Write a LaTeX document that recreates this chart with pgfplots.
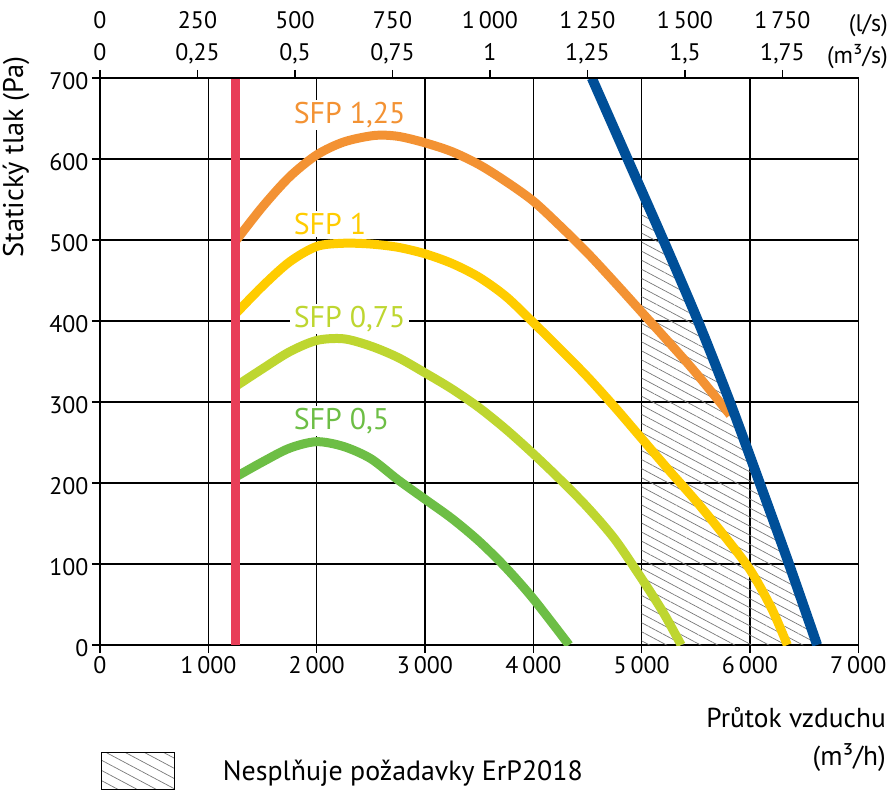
\documentclass[border=0pt]{standalone}
\usepackage{fontspec}
\setmainfont{PT Sans}
\usepackage{pgfplots}
\pgfplotsset{compat=1.18}
\usetikzlibrary{patterns.meta}
\definecolor{cOrange}{RGB}{243,146,51}
\definecolor{cYellow}{RGB}{255,204,0}
\definecolor{cLime}{RGB}{190,214,48}
\definecolor{cGreen}{RGB}{109,190,69}
\definecolor{cRed}{RGB}{232,62,88}
\definecolor{cBlue}{RGB}{0,79,152}
\definecolor{cHatch}{RGB}{120,120,120}
\newcommand\tl[2]{\begin{tabular}{@{}c@{}}#1\\#2\end{tabular}}
\begin{document}
\begin{tikzpicture}
\begin{axis}[name=ax,
  scale only axis, width=758.3bp, height=567bp,
  xmin=0, xmax=7000, ymin=0, ymax=700,
  xtick={0,1000,...,7000},
  xticklabels={0,1\,000,2\,000,3\,000,4\,000,5\,000,6\,000,7\,000},
  ytick={0,100,...,700},
  grid=major,
  major grid style={black, line width=1.1bp},
  axis line style={black, line width=1.2bp},
  tick style={black, line width=1.1bp},
  tick align=outside, major tick length=8bp,
  xtick pos=bottom, ytick pos=left,
  /pgf/number format/assume math mode=true,
  ticklabel style={font=\fontsize{24}{30}\selectfont},
  yticklabel style={yshift=-3bp},
]
% hatched area
\addplot[draw=none, pattern={Lines[angle=-28, distance=8bp, line width=0.7bp]}, pattern color=cHatch]
  coordinates {(5000,0) (5000,560) (5200,500) (5520,400) (5815,300) (6090,200) (6360,100) (6620,0)} -- cycle;
% labels
\node[anchor=base west, fill=white, inner xsep=4bp, inner ysep=2bp, text=cOrange, font=\fontsize{30}{36}\selectfont] at (axis cs:1750,644) {SFP 1,25};
\node[anchor=base west, fill=white, inner xsep=4bp, inner ysep=2bp, text=cYellow, font=\fontsize{30}{36}\selectfont] at (axis cs:1750,507) {SFP 1};
\node[anchor=base west, fill=white, inner xsep=4bp, inner ysep=2bp, text=cLime, font=\fontsize{30}{36}\selectfont] at (axis cs:1750,392) {SFP 0,75};
\node[anchor=base west, fill=white, inner xsep=4bp, inner ysep=2bp, text=cGreen, font=\fontsize{30}{36}\selectfont] at (axis cs:1750,266) {SFP 0,5};
% curves
\addplot[cOrange, line width=9bp, smooth, line join=round] coordinates {
(1260,500) (1500,541) (1750,578) (2000,605) (2250,621) (2530,629) (2750,628) (3000,620)
(3250,609) (3500,593) (3750,572) (4000,548) (4250,517) (4500,484) (4750,448) (5000,411)
(5250,374) (5500,336) (5817,284)};
\addplot[cYellow, line width=9bp, smooth, line join=round] coordinates {
(1260,410) (1500,443) (1750,473) (2000,492) (2250,496) (2500,495) (2750,491) (3000,483)
(3250,471) (3500,454) (3750,430) (4000,398) (4250,365) (4500,331) (4750,294) (5000,255)
(5250,216) (5500,178) (5750,137) (6000,93) (6200,45) (6345,0)};
\addplot[cLime, line width=9bp, smooth, line join=round] coordinates {
(1260,320) (1500,341) (1750,362) (2000,376) (2250,378) (2500,369) (2750,355) (3000,336)
(3250,316) (3500,293) (3750,266) (4000,236) (4250,204) (4500,170) (4750,131) (5000,82)
(5200,40) (5365,0)};
\addplot[cGreen, line width=9bp, smooth, line join=round] coordinates {
(1260,208) (1500,226) (1750,243) (2000,251) (2250,245) (2500,230) (2750,204) (3000,180)
(3250,156) (3500,128) (3750,95) (4000,57) (4330,0)};
\addplot[cBlue, line width=10bp, smooth, line join=round] coordinates {
(4540,700) (4870,600) (5200,500) (5520,400) (5815,300) (6090,200) (6360,100) (6620,0)};
\addplot[cRed, line width=9bp] coordinates {(1255,0) (1255,700)};
\end{axis}
\begin{axis}[
  scale only axis, width=758.3bp, height=567bp,
  xmin=0, xmax=7000, ymin=0, ymax=700,
  axis x line*=top, axis y line=none,
  axis line style={black, line width=1.2bp},
  tick style={black, line width=1.1bp},
  tick align=outside, major tick length=8bp,
  xtick={0,900,...,6300},
  xticklabels={\tl{0}{0},\tl{250}{0,25},\tl{500}{0,5},\tl{750}{0,75},\tl{1\,000}{1},\tl{1\,250}{1,25},\tl{1\,500}{1,5},\tl{1\,750}{1,75}},
  xticklabel style={font=\fontsize{24}{32}\selectfont, inner sep=0pt},
  ytick=\empty,
]
\addplot[draw=none] coordinates {(0,0) (7000,700)};
\end{axis}
\node[anchor=base east, inner sep=0pt, font=\fontsize{24}{30}\selectfont] at ([shift={(788bp,613.5bp)}]ax.south west) {(l/s)};
\node[anchor=base east, inner sep=0pt, font=\fontsize{24}{30}\selectfont] at ([shift={(788bp,581.5bp)}]ax.south west) {(m³/s)};
\node[rotate=90, inner sep=0pt, font=\fontsize{28.5}{32}\selectfont] at ([shift={(-84bp,488bp)}]ax.south west) {Statický tlak (Pa)};
\node[anchor=base east, inner sep=0pt, font=\fontsize{27.5}{32}\selectfont] at ([shift={(786bp,-82bp)}]ax.south west) {Průtok vzduchu};
\node[anchor=base east, inner sep=0pt, font=\fontsize{27.5}{32}\selectfont] at ([shift={(786bp,-120bp)}]ax.south west) {(m³/h)};
\draw[black, line width=1bp, pattern={Lines[angle=-28, distance=9bp, line width=0.7bp]}, pattern color=cHatch]
  ([shift={(1.7bp,-144bp)}]ax.south west) rectangle ([shift={(74.3bp,-107.3bp)}]ax.south west);
\node[anchor=base west, font=\fontsize{28}{32}\selectfont, inner sep=0pt] at ([shift={(122.7bp,-135bp)}]ax.south west) {Nesplňuje požadavky ErP2018};
\pgfresetboundingbox
\path ([shift={(-100bp,-153bp)}]ax.south west) rectangle ([shift={(794bp,645bp)}]ax.south west);
\end{tikzpicture}
\end{document}
